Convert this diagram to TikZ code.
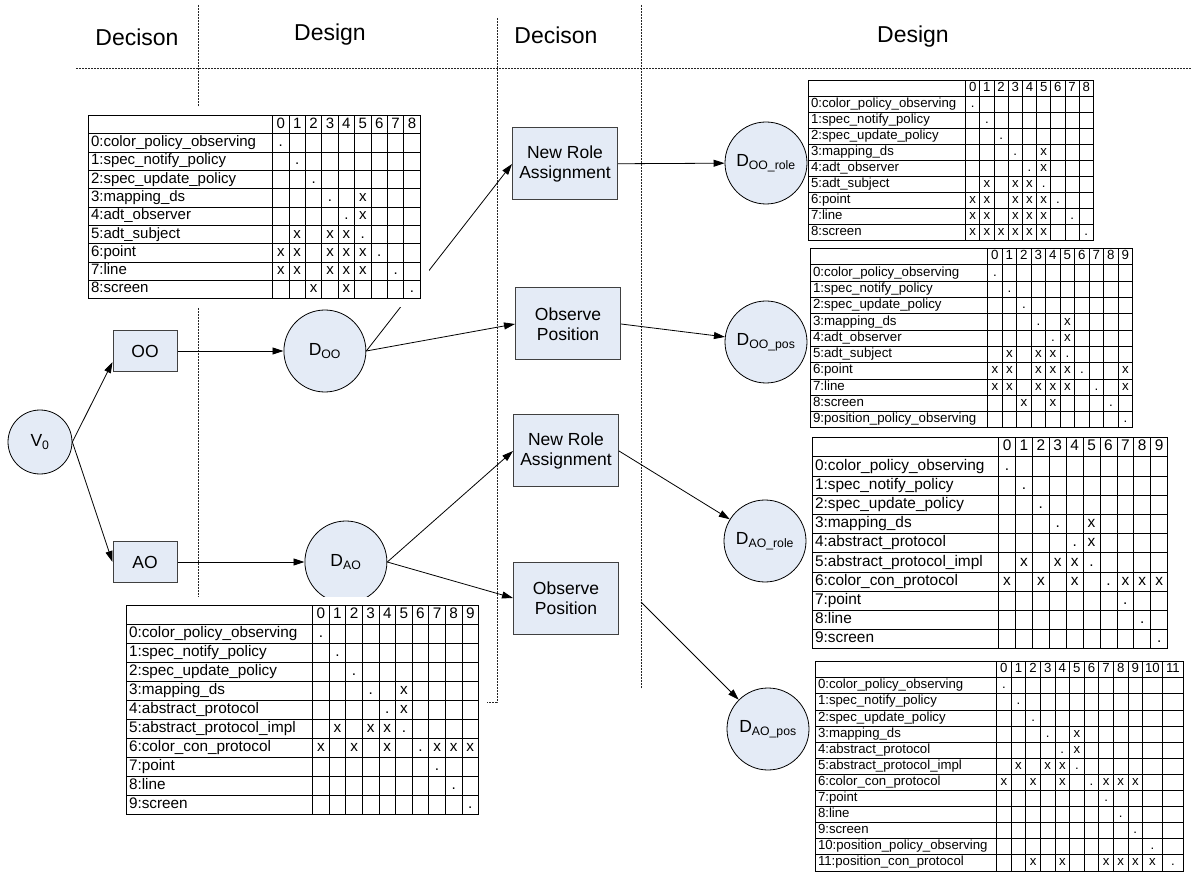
\documentclass[tikz,border=0pt]{standalone}
\usepackage{fontspec}
\setmainfont{Liberation Sans}
\usepackage{array}
\usetikzlibrary{positioning,arrows.meta}

\definecolor{paleblue}{HTML}{E4EBF6}
\newcolumntype{L}[1]{>{\raggedright\arraybackslash}p{#1}}
\newcolumntype{C}[1]{>{\centering\arraybackslash}p{#1}}
\setlength{\tabcolsep}{2pt}
\setlength{\arrayrulewidth}{0.8pt}

\tikzset{
  phase/.style={font=\fontsize{23}{26}\selectfont},
  sep/.style={draw=black!85,line width=0.6pt,dash pattern=on 2pt off 1pt},
  start/.style={circle,draw,line width=0.8pt,fill=paleblue,minimum size=64pt,inner sep=0pt,
                font=\fontsize{17.5}{20}\selectfont},
  design/.style={start,minimum size=82pt},
  choice/.style={rectangle,draw=black!75,line width=1pt,fill=paleblue,minimum width=64pt,
                 minimum height=41pt,font=\fontsize{17.5}{20}\selectfont},
  decision/.style={choice,minimum width=105pt,minimum height=72pt,align=center},
  link/.style={line width=0.8pt,-{Triangle[length=11pt,width=7pt]}},
  tbl/.style={anchor=north west,inner sep=0pt,fill=white},
}

\begin{document}
\begin{tikzpicture}[x=1pt,y=-1pt]
    \useasboundingbox (0,0) rectangle (1192,874);

    % phases
    \node[phase] (dec1) at (137,37) {Decison};
    \node[phase] (des1) at (330,35) {Design};
    \node[phase] (dec2) at (556,35) {Decison};
    \node[phase] (des2) at (913,37) {Design};
    \draw[sep] (76,68) -- (1192,68);
    \draw[sep] (198,5) -- (198,598);
    \draw[sep] (497,18) -- (497,702) -- (487,702);
    \draw[sep] (641,5) -- (641,688);

    % first decision
    \node[start] (v0) at (40,442) {V\textsubscript{0}};
    \node[choice] (oo) at (145,351) {OO};
    \node[choice] (ao) at (145,562) {AO};
    \node[design] (doo) [right=106pt of oo] {D\textsubscript{OO}};
    \node[design] (dao) [right=127pt of ao] {D\textsubscript{AO}};

    % second decision
    \node[decision] (newrole1) at (565,164) {New Role\\Assignment};
    \node[decision] (observe1) at (568,324) {Observe\\Position};
    \node[decision] (newrole2) at (566,451) {New Role\\Assignment};
    \node[decision] (observe2) at (566,598) {Observe\\Position};
    \node[design] (doorole) at (766,163) {D\textsubscript{OO\_role}};
    \node[design] (doopos) at (766,342) {D\textsubscript{OO\_pos}};
    \node[design] (daorole) at (765,541) {D\textsubscript{AO\_role}};
    \node[design] (daopos) at (768,729) {D\textsubscript{AO\_pos}};

    \path[link]
    (v0.east)       edge ([yshift=-11pt]oo.west)
                    edge (ao.west)
    (oo)            edge (doo)
    (ao)            edge (dao)
    (doo.east)      edge (newrole1.west)
                    edge (observe1.west)
    (dao.east)      edge (newrole2.west)
                    edge (observe2.west)
    (newrole1)      edge (doorole)
    (observe1.east) edge (doopos)
    (newrole2.east) edge (daorole)
    ([xshift=22pt,yshift=-4pt]observe2.east) edge (daopos)
    ;

    % dependency matrices
    \node[tbl,inner sep=8pt,font=\fontsize{15}{17.5}\selectfont] (tabdoo) at (80,107) {%
    \begin{tabular}{|L{179.2pt}|*{9}{C{11.6pt}|}}\hline
     & 0 & 1 & 2 & 3 & 4 & 5 & 6 & 7 & 8 \\\hline
    0:color\_policy\_observing & . & & & & & & & & \\\hline
    1:spec\_notify\_policy & & . & & & & & & & \\\hline
    2:spec\_update\_policy & & & . & & & & & & \\\hline
    3:mapping\_ds & & & & . & & x & & & \\\hline
    4:adt\_observer & & & & & . & x & & & \\\hline
    5:adt\_subject & & x & & x & x & . & & & \\\hline
    6:point & x & x & & x & x & x & . & & \\\hline
    7:line & x & x & & x & x & x & & . & \\\hline
    8:screen & & & x & & x & & & & . \\\hline
    \end{tabular}};

    \node[tbl,inner sep=8pt,font=\fontsize{15.3}{18.2}\selectfont] (tabdao) at (118,597) {%
    \begin{tabular}{|L{181.2pt}|*{10}{C{11.8pt}|}}\hline
     & 0 & 1 & 2 & 3 & 4 & 5 & 6 & 7 & 8 & 9 \\\hline
    0:color\_policy\_observing & . & & & & & & & & & \\\hline
    1:spec\_notify\_policy & & . & & & & & & & & \\\hline
    2:spec\_update\_policy & & & . & & & & & & & \\\hline
    3:mapping\_ds & & & & . & & x & & & & \\\hline
    4:abstract\_protocol & & & & & . & x & & & & \\\hline
    5:abstract\_protocol\_impl & & x & & x & x & . & & & & \\\hline
    6:color\_con\_protocol & x & & x & & x & & . & x & x & x \\\hline
    7:point & & & & & & & & . & & \\\hline
    8:line & & & & & & & & & . & \\\hline
    9:screen & & & & & & & & & & . \\\hline
    \end{tabular}};

    \node[tbl,font=\fontsize{13.2}{15.2}\selectfont] (tabdoorole) at (808,80) {%
    \begin{tabular}{|L{152.2pt}|*{9}{C{9.4pt}|}}\hline
     & 0 & 1 & 2 & 3 & 4 & 5 & 6 & 7 & 8 \\\hline
    0:color\_policy\_observing & . & & & & & & & & \\\hline
    1:spec\_notify\_policy & & . & & & & & & & \\\hline
    2:spec\_update\_policy & & & . & & & & & & \\\hline
    3:mapping\_ds & & & & . & & x & & & \\\hline
    4:adt\_observer & & & & & . & x & & & \\\hline
    5:adt\_subject & & x & & x & x & . & & & \\\hline
    6:point & x & x & & x & x & x & . & & \\\hline
    7:line & x & x & & x & x & x & & . & \\\hline
    8:screen & x & x & x & x & x & x & & & . \\\hline
    \end{tabular}};

    \node[tbl,font=\fontsize{13.3}{15.5}\selectfont] (tabdoopos) at (810,248) {%
    \begin{tabular}{|L{172.2pt}|*{10}{C{9.7pt}|}}\hline
     & 0 & 1 & 2 & 3 & 4 & 5 & 6 & 7 & 8 & 9 \\\hline
    0:color\_policy\_observing & . & & & & & & & & & \\\hline
    1:spec\_notify\_policy & & . & & & & & & & & \\\hline
    2:spec\_update\_policy & & & . & & & & & & & \\\hline
    3:mapping\_ds & & & & . & & x & & & & \\\hline
    4:adt\_observer & & & & & . & x & & & & \\\hline
    5:adt\_subject & & x & & x & x & . & & & & \\\hline
    6:point & x & x & & x & x & x & . & & & x \\\hline
    7:line & x & x & & x & x & x & & . & & x \\\hline
    8:screen & & & x & & x & & & & . & \\\hline
    9:position\_policy\_observing & & & & & & & & & & . \\\hline
    \end{tabular}};

    \node[tbl,font=\fontsize{15.4}{18.4}\selectfont] (tabdaorole) at (812,437) {%
    \begin{tabular}{|L{181.2pt}|*{10}{C{12.1pt}|}}\hline
     & 0 & 1 & 2 & 3 & 4 & 5 & 6 & 7 & 8 & 9 \\\hline
    0:color\_policy\_observing & . & & & & & & & & & \\\hline
    1:spec\_notify\_policy & & . & & & & & & & & \\\hline
    2:spec\_update\_policy & & & . & & & & & & & \\\hline
    3:mapping\_ds & & & & . & & x & & & & \\\hline
    4:abstract\_protocol & & & & & . & x & & & & \\\hline
    5:abstract\_protocol\_impl & & x & & x & x & . & & & & \\\hline
    6:color\_con\_protocol & x & & x & & x & & . & x & x & x \\\hline
    7:point & & & & & & & & . & & \\\hline
    8:line & & & & & & & & & . & \\\hline
    9:screen & & & & & & & & & & . \\\hline
    \end{tabular}};

    \node[tbl,font=\fontsize{13.2}{15.3}\selectfont] (tabdaopos) at (815,661) {%
    \begin{tabular}{|L{176.2pt}|*{10}{C{9.8pt}|}C{14.7pt}|C{16.7pt}|}\hline
     & 0 & 1 & 2 & 3 & 4 & 5 & 6 & 7 & 8 & 9 & 10 & 11 \\\hline
    0:color\_policy\_observing & . & & & & & & & & & & & \\\hline
    1:spec\_notify\_policy & & . & & & & & & & & & & \\\hline
    2:spec\_update\_policy & & & . & & & & & & & & & \\\hline
    3:mapping\_ds & & & & . & & x & & & & & & \\\hline
    4:abstract\_protocol & & & & & . & x & & & & & & \\\hline
    5:abstract\_protocol\_impl & & x & & x & x & . & & & & & & \\\hline
    6:color\_con\_protocol & x & & x & & x & & . & x & x & x & & \\\hline
    7:point & & & & & & & & . & & & & \\\hline
    8:line & & & & & & & & & . & & & \\\hline
    9:screen & & & & & & & & & & . & & \\\hline
    10:position\_policy\_observing & & & & & & & & & & & . & \\\hline
    11:position\_con\_protocol & & & x & & x & & & x & x & x & x & . \\\hline
    \end{tabular}};
\end{tikzpicture}
\end{document}
